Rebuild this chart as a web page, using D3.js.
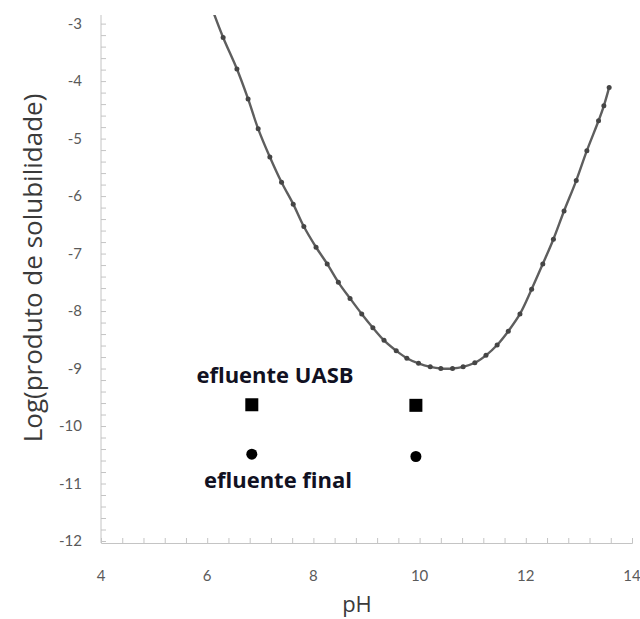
<!DOCTYPE html>
<html><head><meta charset="utf-8">
<script src="https://cdn.jsdelivr.net/npm/d3@7"></script>
<style>body{margin:0;background:#fff}svg{display:block}</style>
</head><body>
<svg id="c" width="640" height="619"></svg>
<script>
const curvePH = [6.10,6.30,6.56,6.77,6.96,7.18,7.40,7.62,7.82,8.05,8.26,8.47,8.69,8.91,9.12,9.33,9.56,9.76,9.98,10.20,10.40,10.62,10.82,11.04,11.25,11.46,11.67,11.89,12.11,12.32,12.52,12.72,12.95,13.15,13.37,13.47,13.57];
const curveLog = [-2.76,-3.24,-3.79,-4.31,-4.83,-5.32,-5.76,-6.14,-6.53,-6.89,-7.18,-7.50,-7.78,-8.05,-8.29,-8.51,-8.69,-8.82,-8.91,-8.97,-9.00,-9.00,-8.97,-8.90,-8.77,-8.59,-8.35,-8.05,-7.62,-7.18,-6.75,-6.26,-5.73,-5.21,-4.69,-4.43,-4.11];
const uasbPH = [6.84, 9.93];
const uasbLog = [-9.63, -9.64];
const finalPH = [6.84, 9.93];
const finalLog = [-10.49, -10.53];
const xTicks = [4,6,8,10,12,14];
const yTicks = [-12,-11,-10,-9,-8,-7,-6,-5,-4,-3];
const labelUASB = "efluente UASB";
const labelFinal = "efluente final";

const svg = d3.select("#c");
const x = d3.scaleLinear().domain([4,14]).range([101,632]);
const y = d3.scaleLinear().domain([-12,-2.85]).range([541,15]);
const axisColor = "#c4c4c4";
const font = "Lato, 'Open Sans', sans-serif";
const font2 = "'Open Sans', Lato, sans-serif";

svg.append("defs").append("clipPath").attr("id","pc")
  .append("rect").attr("x",x(4)).attr("y",y(-2.85)).attr("width",x(14)-x(4)).attr("height",y(-12)-y(-2.85));

// y axis
const yMinor = d3.range(-12, -2.85 + 1e-9, 0.2);
const yAxis = d3.axisRight(y).tickValues(yMinor).tickSize(5).tickFormat("");
const gy = svg.append("g").attr("transform",`translate(${x(4)},0)`).call(yAxis);
gy.selectAll("path,line").attr("stroke",axisColor).attr("stroke-width",1);
gy.select(".domain").attr("d",`M0,${y(-2.85)}V${y(-12)+2}`);
svg.append("g").selectAll("text").data(yTicks).join("text")
  .attr("x",82).attr("y",d=>y(d)).attr("dy","0.35em").attr("text-anchor","end")
  .attr("font-family",font).attr("font-size",15).attr("fill","#5a5a5a").text(d=>d);

// x axis
const xMinor = d3.range(4, 14 + 1e-9, 0.4);
const xAxis = d3.axisTop(x).tickValues(xMinor).tickSize(5).tickFormat("");
const gx = svg.append("g").attr("transform",`translate(0,${y(-12)+2})`).call(xAxis);
gx.selectAll("path,line").attr("stroke",axisColor).attr("stroke-width",1);
svg.append("g").selectAll("text").data(xTicks).join("text")
  .attr("x",d=>x(d)).attr("y",576).attr("dy","0.35em").attr("text-anchor","middle")
  .attr("font-family",font).attr("font-size",15).attr("fill","#5a5a5a").text(d=>d);

// axis titles
svg.append("text").attr("transform",`translate(33,268) rotate(-90)`).attr("text-anchor","middle").attr("dy","0.35em")
  .attr("font-family",font2).attr("font-size",26).attr("fill","#3a3a3a").text("Log(produto de solubilidade)");
svg.append("text").attr("x",357).attr("y",604).attr("dy","0.35em").attr("text-anchor","middle")
  .attr("font-family",font2).attr("font-size",22).attr("fill","#3a3a3a").text("pH");

// curve
const pts = curvePH.map((p,i)=>[p,curveLog[i]]);
const gc = svg.append("g").attr("clip-path","url(#pc)");
gc.append("path").datum(pts)
  .attr("d", d3.line().x(d=>x(d[0])).y(d=>y(d[1])).curve(d3.curveCatmullRom))
  .attr("fill","none").attr("stroke","#5e5e5e").attr("stroke-width",2.4);
gc.selectAll("circle").data(pts).join("circle")
  .attr("cx",d=>x(d[0])).attr("cy",d=>y(d[1])).attr("r",2.5).attr("fill","#454545");

// scatter
svg.append("g").selectAll("rect").data(uasbPH.map((p,i)=>[p,uasbLog[i]])).join("rect")
  .attr("x",d=>x(d[0])-6.5).attr("y",d=>y(d[1])-6.5).attr("width",13).attr("height",13).attr("fill","#000");
svg.append("g").selectAll("circle").data(finalPH.map((p,i)=>[p,finalLog[i]])).join("circle")
  .attr("cx",d=>x(d[0])).attr("cy",d=>y(d[1])).attr("r",5.5).attr("fill","#000");

// labels
svg.append("text").attr("x",275).attr("y",375).attr("dy","0.35em").attr("text-anchor","middle")
  .attr("font-family",font2).attr("font-weight","bold").attr("font-size",22).attr("fill","#111122").text(labelUASB);
svg.append("text").attr("x",278).attr("y",480).attr("dy","0.35em").attr("text-anchor","middle")
  .attr("font-family",font2).attr("font-weight","bold").attr("font-size",22).attr("fill","#111122").text(labelFinal);
</script>
</body></html>
